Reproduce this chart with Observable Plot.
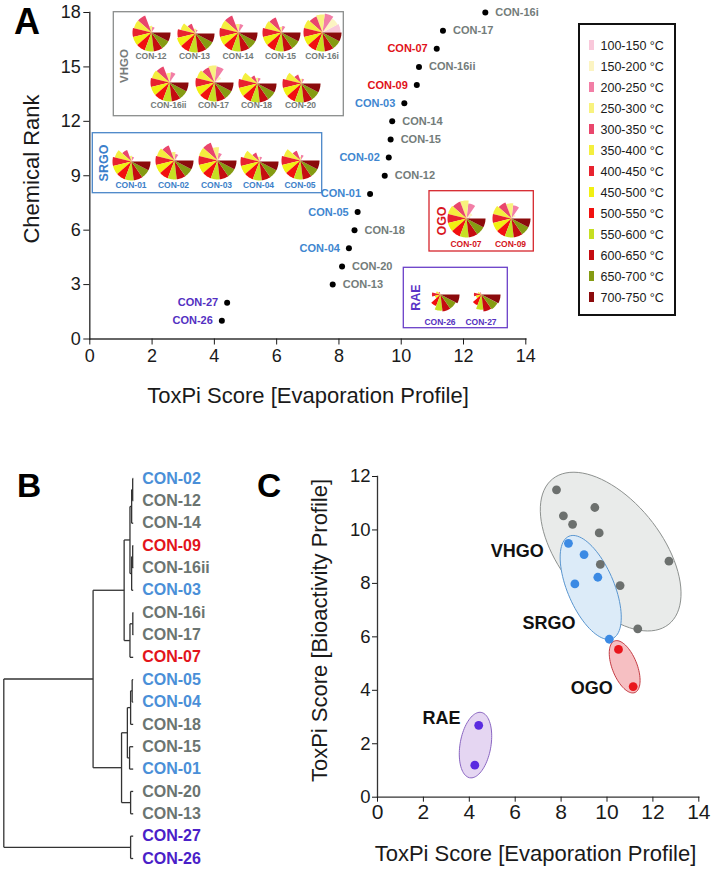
<!DOCTYPE html>
<html><head><meta charset="utf-8">
<script src="https://cdn.jsdelivr.net/npm/d3@7"></script>
<script src="https://cdn.jsdelivr.net/npm/@observablehq/plot@0.6"></script>
<style>
body{margin:0;background:#fff;}
#fig{position:relative;width:711px;height:871px;overflow:hidden;background:#fff;font-family:'Liberation Sans',Arial,sans-serif;}
.abs{position:absolute;}
#fig svg{max-width:none !important;background:transparent;}
#pa svg line{stroke-width:1.4px;stroke:#333;}
#pc svg line{stroke-width:1.3px;stroke:#333;}
#pc g[aria-label^="x-axis"] text{font-size:21px;}
#pc g[aria-label^="y-axis"] text{font-size:18.5px;}
</style></head>
<body><div id="fig"></div>
<script>
// ================= DATA =================
const compounds = ["CON-01","CON-02","CON-03","CON-04","CON-05","CON-07","CON-09","CON-12","CON-13","CON-14","CON-15","CON-16i","CON-16ii","CON-17","CON-18","CON-20","CON-26","CON-27"];
const compoundGroup = ["SRGO","SRGO","SRGO","SRGO","SRGO","OGO","OGO","VHGO","VHGO","VHGO","VHGO","VHGO","VHGO","VHGO","VHGO","VHGO","RAE","RAE"];
const evaporationScore = [9.00, 9.60, 10.10, 8.32, 8.60, 11.14, 10.50, 9.47, 7.80, 9.71, 9.66, 12.70, 10.57, 11.34, 8.50, 8.10, 4.24, 4.41];
const chemicalRank = [8, 10, 13, 5, 7, 16, 14, 9, 3, 12, 11, 18, 15, 17, 6, 4, 1, 2];
const bioactivityScore = [9.08, 8.23, 5.91, 9.50, 7.98, 4.14, 5.53, 10.84, 11.50, 8.71, 9.89, 8.83, 7.92, 6.30, 10.21, 10.53, 1.20, 2.69];
const groups = ["VHGO","SRGO","OGO","RAE"];
const tempBins = ["100-150 °C","150-200 °C","200-250 °C","250-300 °C","300-350 °C","350-400 °C","400-450 °C","450-500 °C","500-550 °C","550-600 °C","600-650 °C","650-700 °C","700-750 °C"];
// slice scores (0-1) per compound, in tempBins order
const sliceScores = [
  [0.03,0.08,0.25,0.30,0.65,0.90,1,1,1,1,1,1,1],      // CON-01
  [0.05,0.15,0.35,0.45,0.85,0.95,1,1,1,1,1,1,1],      // CON-02
  [0.05,0.20,0.40,0.70,1.00,1.00,1,1,1,1,1,1,1],      // CON-03
  [0.03,0.08,0.25,0.25,0.50,0.85,1,1,1,1,1,1,1],      // CON-04
  [0.03,0.10,0.30,0.20,0.55,0.90,1,1,1,1,1,1,1],      // CON-05
  [0.20,0.35,0.80,0.95,0.95,1,1,1,1,1,1,1,1],         // CON-07
  [0.10,0.25,0.70,0.80,0.90,1,1,1,1,1,1,1,1],         // CON-09
  [0.05,0.10,0.30,0.35,0.95,0.95,1,1,1,1,1,1,1],      // CON-12
  [0.03,0.08,0.20,0.25,0.55,0.80,0.95,1,1,1,1,1,1],   // CON-13
  [0.05,0.15,0.45,0.45,0.95,0.95,1,1,1,1,1,1,1],      // CON-14
  [0.03,0.10,0.35,0.30,0.85,0.90,1,1,1,1,1,1,1],      // CON-15
  [0.95,0.90,1.00,0.95,0.90,1,1,1,1,1,1,1,1],         // CON-16i
  [0.05,0.15,0.55,0.50,0.90,0.95,1,1,1,1,1,1,1],      // CON-16ii
  [0.10,0.40,0.85,0.90,0.85,0.95,1,1,1,1,1,1,1],      // CON-17
  [0.03,0.10,0.30,0.30,0.45,0.85,1,1,1,1,1,1,1],      // CON-18
  [0.03,0.10,0.25,0.25,0.50,0.85,1,1,1,1,1,1,1],      // CON-20
  [0,0,0.02,0.03,0.15,0.25,0.45,0.30,0.65,0.85,0.90,0.90,1], // CON-26
  [0,0,0.02,0.03,0.12,0.20,0.40,0.30,0.60,0.80,0.90,0.95,1]  // CON-27
];
const xTicksA = [0,2,4,6,8,10,12,14];
const yTicksA = [0,3,6,9,12,15,18];
const xTicksC = [0,2,4,6,8,10,12,14];
const yTicksC = [0,2,4,6,8,10,12];
const dendroLeaves = ["CON-02","CON-12","CON-14","CON-09","CON-16ii","CON-03","CON-16i","CON-17","CON-07","CON-05","CON-04","CON-18","CON-15","CON-01","CON-20","CON-13","CON-27","CON-26"];
// [node, childA, childB, merge distance]
const linkage = [
  ["n1","CON-02","CON-12",0.04],
  ["n2","n1","CON-14",0.12],
  ["n3","CON-09","CON-16ii",0.04],
  ["n4","n3","CON-03",0.12],
  ["n5","n2","n4",0.25],
  ["n6","CON-16i","CON-17",0.03],
  ["n7","n6","CON-07",0.25],
  ["n8","n5","n7",0.70],
  ["n9","CON-05","CON-04",0.08],
  ["n10","n9","CON-18",0.20],
  ["n11","CON-15","CON-01",0.28],
  ["n12","n10","n11",0.45],
  ["n13","CON-20","CON-13",0.20],
  ["n14","n12","n13",0.90],
  ["n15","n8","n14",3.10],
  ["n16","CON-27","CON-26",0.20],
  ["n17","n15","n16",10]
];

// ================= STYLE / LAYOUT =================
const FONT = "'Liberation Sans', Arial, sans-serif";
const binColors = ["#f9c8da","#fcf4c2","#f27ea6","#f8f27e","#e9466c","#f4ef3e","#e8222f","#f1f012","#f2100f","#c6df22","#c50c11","#859b12","#8b0b0c"];
const aLabelColors = ["#737c7a","#4086d0","#df121a","#5330c2"];
const bLabelColors = ["#6b7471","#4a8fd8","#e3141b","#4a20c8"];
const dotColorsC = ["#6c706e","#3b8ae4","#e9161c","#5a2be0"];
const boxColors = ["#8a8d8c","#4a86c8","#d6262d","#6a3fc8"];
const boxLabelColors = ["#777b7a","#3b7fcb","#d8161e","#5a33c6"];
const pieLabelColors = ["#737b79","#3d7fc8","#d4151c","#5631c0"];
const PIE_R = 19;
const pieCenter = {
  "CON-12":[151,32],"CON-13":[194.5,32.5],"CON-14":[238,32],"CON-15":[280.5,32],"CON-16i":[322,32],
  "CON-16ii":[168.5,82],"CON-17":[213.5,82],"CON-18":[256.5,82.5],"CON-20":[300.5,83],
  "CON-01":[131,160.5],"CON-02":[173.5,160],"CON-03":[216.5,160],"CON-04":[258.5,160.5],"CON-05":[300,160],
  "CON-07":[466,217.5],"CON-09":[510.5,217.5],
  "CON-26":[440,293.5],"CON-27":[481,293.5]
};
const pieLabelBaseline = {
  "CON-12":59,"CON-13":59,"CON-14":59,"CON-15":59,"CON-16i":59,
  "CON-16ii":107.5,"CON-17":107.5,"CON-18":107.5,"CON-20":107.5,
  "CON-01":188,"CON-02":188,"CON-03":188,"CON-04":188,"CON-05":188,
  "CON-07":247,"CON-09":247,"CON-26":325,"CON-27":325
};
const insetBoxes = [ // group, x1,y1,x2,y2, label x(baseline), label y(center), font
  ["VHGO",113.3,11.7,343.3,115.7,128,66,11.5],
  ["SRGO",92.3,132.7,321.7,192.7,107.5,163,12.5],
  ["OGO",429,190.7,533.3,251,446,221,12.5],
  ["RAE",403.3,267.3,507.3,327.7,419.5,297.5,12.5]
];
// ellipse annotations in panel C (data units): center, conjugate semi-axis vectors
const ellipsesC = [
  {g:"VHGO", c:[10.16,9.19], u:[2.525,-2.723], v:[-1.740,-1.186], fill:"#e9ebea", stroke:"#8d918f"},
  {g:"SRGO", c:[9.29,7.85], u:[0.948,-1.914], v:[-0.935,-0.341], fill:"#dcebf8", stroke:"#5a96d0"},
  {g:"OGO", c:[10.77,4.88], u:[0.445,-0.964], v:[-0.503,-0.171], fill:"#f6bfc2", stroke:"#c43b43"},
  {g:"RAE", c:[4.27,1.95], u:[-0.246,-1.223], v:[0.662,-0.098], fill:"#e5d6f2", stroke:"#8a66c2"}
];
const cLabelPos = {VHGO:[7.24,9.19], SRGO:[8.63,6.50], OGO:[10.25,4.07], RAE:[3.62,2.94]};

// ================= BUILD =================
const fig = document.getElementById("fig");
function place(node, left, top, id) {
  const d = document.createElement("div");
  d.className = "abs"; d.style.left = left + "px"; d.style.top = top + "px";
  if (id) d.id = id;
  d.appendChild(node); fig.appendChild(d); return d;
}
const recs = compounds.map((c, i) => ({c, g: compoundGroup[i], evap: evaporationScore[i], rank: chemicalRank[i], bio: bioactivityScore[i]}));

// ---- Panel A ----
const plotA = Plot.plot({
  width: 560, height: 380, marginLeft: 89.3, marginRight: 34.7, marginTop: 12, marginBottom: 41.5,
  style: {fontFamily: FONT, fontSize: "18px", color: "#1a1a1a", background: "transparent"},
  x: {domain: [0, 14], ticks: xTicksA, tickSize: 6, tickPadding: 4, line: true, label: null},
  y: {domain: [0, 18], ticks: yTicksA, tickSize: 6, tickPadding: 3, line: true, label: null},
  color: {domain: groups, range: aLabelColors},
  marks: [
    Plot.dot(recs, {x: "evap", y: "rank", r: 3, fill: "#000"}),
    Plot.text(recs.filter(d => d.g === "VHGO"), {x: "evap", y: "rank", text: "c", fill: "g", dx: 10, textAnchor: "start", fontSize: 11, fontWeight: "bold"}),
    Plot.text(recs.filter(d => d.g !== "VHGO"), {x: "evap", y: "rank", text: "c", fill: "g", dx: -9, textAnchor: "end", fontSize: 11, fontWeight: "bold"})
  ]
});
place(plotA, 0, 0, "pa");

// ---- Pies ----
function piePlot(scores) {
  const pts = [];
  scores.forEach((s, k) => {
    const a0 = 2 * Math.PI * k / 13, a1 = 2 * Math.PI * (k + 1) / 13;
    pts.push({bin: tempBins[k], px: 0, py: 0});
    for (let i = 0; i <= 10; i++) {
      const a = a0 + (a1 - a0) * i / 10;
      pts.push({bin: tempBins[k], px: s * Math.cos(a), py: s * Math.sin(a)});
    }
  });
  return Plot.plot({
    width: 2 * PIE_R + 2, height: 2 * PIE_R + 2, margin: 1,
    style: {background: "transparent"},
    x: {domain: [-1, 1], axis: null}, y: {domain: [-1, 1], axis: null},
    color: {domain: tempBins, range: binColors},
    marks: [Plot.line(pts, {x: "px", y: "py", z: "bin", fill: "bin", stroke: "none", curve: "linear-closed"})]
  });
}
compounds.forEach((c, i) => {
  const [cx, cy] = pieCenter[c];
  place(piePlot(sliceScores[i]), cx - PIE_R - 1, cy - PIE_R - 1);
});

// ---- Legend ----
const legendBox = document.createElement("div");
legendBox.className = "abs";
Object.assign(legendBox.style, {left: "578px", top: "22.7px", width: "98px", height: "293px", border: "2px solid #111", boxSizing: "border-box", background: "#fff"});
fig.appendChild(legendBox);
const legendPlot = Plot.plot({
  width: 94, height: 289, margin: 0,
  style: {fontFamily: FONT, background: "transparent"},
  x: {domain: [0, 1], range: [9, 14], axis: null},
  y: {domain: tempBins, range: [7.35, 284.25], paddingInner: 0.53, paddingOuter: 0.265, axis: null},
  color: {domain: tempBins, range: binColors},
  marks: [
    Plot.barX(tempBins, {x1: 0, x2: 1, y: d => d, fill: d => d}),
    Plot.text(tempBins, {x: 1, y: d => d, text: d => d, dx: 6, textAnchor: "start", fontSize: 12.5, fill: "#1a1a1a"})
  ]
});
legendBox.appendChild(legendPlot);

// ---- Panel B (dendrogram) ----
const nodes = new Map();
dendroLeaves.forEach((id, i) => nodes.set(id, {id, h: 0, y: i}));
const segs = [];
for (const [id, a, b, h] of linkage) {
  const A = nodes.get(a), B = nodes.get(b);
  nodes.set(id, {id, h, y: (A.y + B.y) / 2});
  segs.push({x1: h, y1: A.y, x2: h, y2: B.y});
  segs.push({x1: h, y1: A.y, x2: A.h, y2: A.y});
  segs.push({x1: h, y1: B.y, x2: B.h, y2: B.y});
}
const leafRecs = dendroLeaves.map((c, i) => ({c, i, g: compoundGroup[compounds.indexOf(c)]}));
const plotB = Plot.plot({
  width: 290, height: 411, marginLeft: 3.3, marginRight: 157.3, marginTop: 18, marginBottom: 13,
  style: {fontFamily: FONT, background: "transparent"},
  x: {domain: [10, 0], axis: null},
  y: {domain: [0, 17], reverse: true, axis: null},
  color: {domain: groups, range: bLabelColors},
  marks: [
    Plot.link(segs, {x1: "x1", y1: "y1", x2: "x2", y2: "y2", stroke: "#333", strokeWidth: 1.3}),
    Plot.text(leafRecs, {x: 0, y: "i", text: "c", fill: "g", dx: 9, textAnchor: "start", fontSize: 16, fontWeight: "bold"})
  ]
});
place(plotB, 0, 460, "pb");

// ---- Panel C ----
function ellipsePts(e) {
  const pts = [];
  for (let k = 0; k < 90; k++) {
    const t = 2 * Math.PI * k / 90;
    pts.push({x: e.c[0] + e.u[0] * Math.cos(t) + e.v[0] * Math.sin(t), y: e.c[1] + e.u[1] * Math.cos(t) + e.v[1] * Math.sin(t)});
  }
  return pts;
}
const plotC = Plot.plot({
  width: 421, height: 431, marginLeft: 87, marginRight: 12.7, marginTop: 36, marginBottom: 74.3,
  style: {fontFamily: FONT, fontSize: "18px", color: "#1a1a1a", background: "transparent"},
  x: {domain: [0, 14], ticks: xTicksC, tickSize: 5, tickPadding: 2, line: true, label: null},
  y: {domain: [0, 12], ticks: yTicksC, tickSize: 5, tickPadding: 2, line: true, label: null},
  color: {domain: groups, range: dotColorsC},
  marks: [
    ...ellipsesC.map(e => Plot.line(ellipsePts(e), {x: "x", y: "y", fill: e.fill, stroke: e.stroke, strokeWidth: 1, curve: "linear-closed"})),
    Plot.dot(recs, {x: "evap", y: "bio", r: 4.4, fill: "g"}),
    Plot.text(groups, {x: g => cLabelPos[g][0], y: g => cLabelPos[g][1], text: g => g, textAnchor: "end", fontSize: 18, fontWeight: "bold", fill: "#111"})
  ]
});
place(plotC, 290, 440, "pc");

// ---- Overlay annotations ----
const ov = d3.create("svg").attr("width", 711).attr("height", 871).attr("font-family", FONT)
  .style("position", "absolute").style("left", "0px").style("top", "0px").style("pointer-events", "none");
function txt(x, y, s, o = {}) {
  ov.append("text").attr("transform", `translate(${x},${y})` + (o.rot ? ` rotate(${o.rot})` : ""))
    .attr("text-anchor", o.anchor || "start").attr("font-size", o.size).attr("font-weight", o.weight || "normal")
    .attr("fill", o.fill || "#1a1a1a").text(s);
}
for (const [g, x1, y1, x2, y2, lx, ly, fs] of insetBoxes) {
  const gi = groups.indexOf(g);
  ov.append("rect").attr("x", x1).attr("y", y1).attr("width", x2 - x1).attr("height", y2 - y1)
    .attr("fill", "none").attr("stroke", boxColors[gi]).attr("stroke-width", 1.3);
  txt(lx, ly, g, {size: fs, weight: "bold", anchor: "middle", rot: -90, fill: boxLabelColors[gi]});
}
compounds.forEach((c, i) => {
  const gi = groups.indexOf(compoundGroup[i]);
  txt(pieCenter[c][0], pieLabelBaseline[c], c, {size: 8.5, weight: "bold", anchor: "middle", fill: pieLabelColors[gi]});
});
txt(14, 33.5, "A", {size: 36, weight: "bold", fill: "#000"});
txt(17, 497, "B", {size: 33.5, weight: "bold", fill: "#000"});
txt(257, 497, "C", {size: 33.5, weight: "bold", fill: "#000"});
txt(308, 403, "ToxPi Score [Evaporation Profile]", {size: 22, anchor: "middle"});
txt(39, 169, "Chemical Rank", {size: 22, anchor: "middle", rot: -90});
txt(535.5, 861, "ToxPi Score [Evaporation Profile]", {size: 22, anchor: "middle"});
txt(327, 630.5, "ToxPi Score [Bioactivity Profile]", {size: 22, anchor: "middle", rot: -90});
fig.appendChild(ov.node());
</script>
</body></html>
